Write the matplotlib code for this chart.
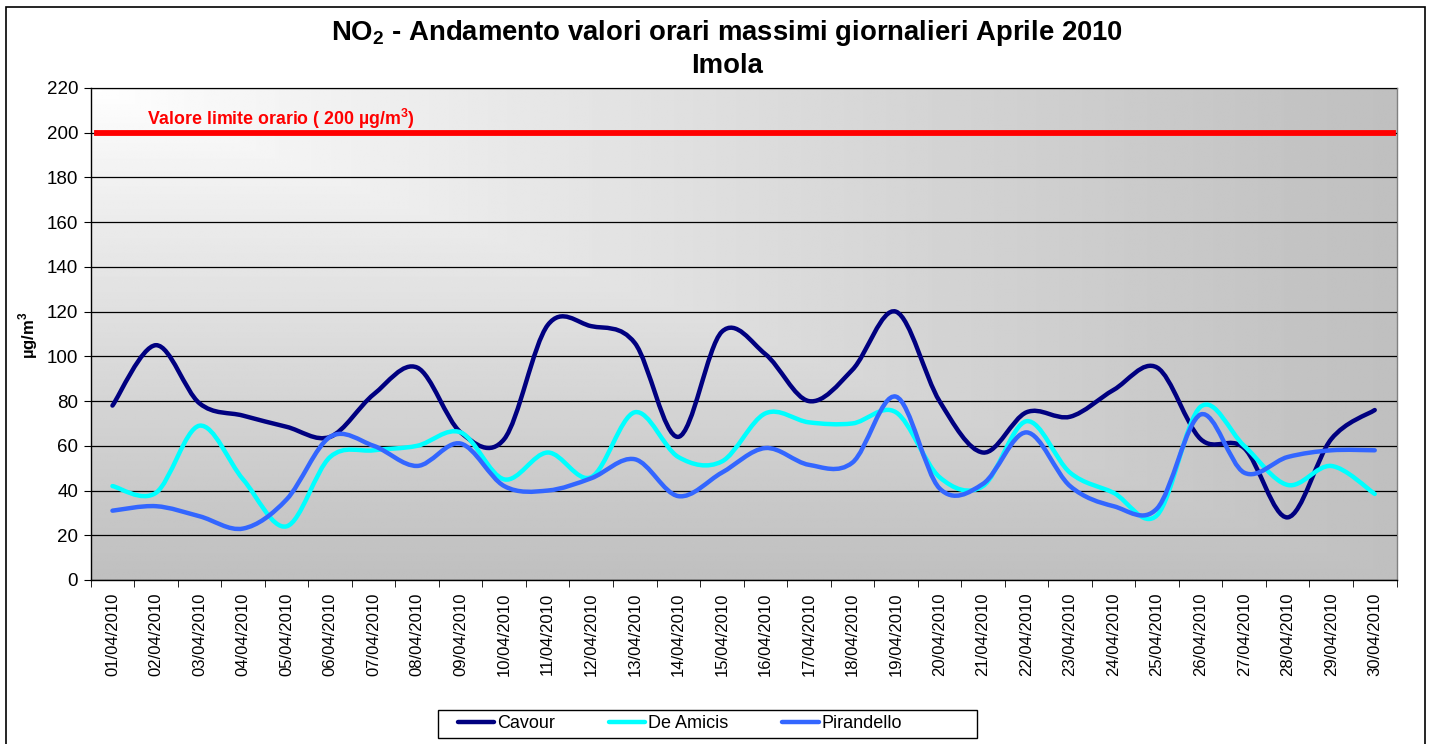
"""
NO2 - daily maximum hourly values, April 2010, Imola.
Three stations drawn as Excel-style smoothed lines over a grey gradient.
"""

import numpy as np
import matplotlib
matplotlib.use("Agg")
import matplotlib.pyplot as plt
from matplotlib.path import Path
from matplotlib.patches import PathPatch, Rectangle
from matplotlib.lines import Line2D

plt.rcParams["font.family"] = ["Liberation Sans", "DejaVu Sans"]
plt.rcParams["mathtext.fontset"] = "custom"
plt.rcParams["mathtext.rm"] = "Liberation Sans"
plt.rcParams["mathtext.bf"] = "Liberation Sans:bold"

DAYS = [f"{d:02d}/04/2010" for d in range(1, 31)]
CAVOUR = [78, 105, 79, 73.5, 68.5, 64, 83, 95, 66, 63,
          114, 113.5, 106, 64, 111, 101, 80, 94, 120, 80,
          57, 75, 73, 85, 95, 63, 59, 28, 63, 76]
DE_AMICIS = [42, 39, 69, 45, 24, 55, 58, 60, 66, 45,
             57, 46, 75, 55, 53, 74.5, 70.5, 70, 75, 46,
             42, 71, 48, 39, 29, 77.5, 60, 42.5, 51, 38.5]
PIRANDELLO = [31, 33, 28.5, 23, 36, 64, 60, 51, 61, 42,
              40, 45.5, 54, 37.5, 48, 59, 51.5, 52.5, 82, 41,
              43, 66, 42, 33, 32, 74, 48, 55, 58, 58]
LIMIT = 200

SERIES = [
    ("Cavour", CAVOUR, "#000080"),
    ("De Amicis", DE_AMICIS, "#00FFFF"),
    ("Pirandello", PIRANDELLO, "#3366FF"),
]


def smooth_path(ys):
    # Excel "smoothed line": cubic Bezier through the points, Catmull-Rom handles
    p = np.column_stack([np.arange(len(ys)), ys]).astype(float)
    n = len(p)
    verts, codes = [p[0]], [Path.MOVETO]
    for i in range(n - 1):
        p0, p1 = p[max(i - 1, 0)], p[i]
        p2, p3 = p[i + 1], p[min(i + 2, n - 1)]
        verts += [p1 + (p2 - p0) / 6, p2 - (p3 - p1) / 6, p2]
        codes += [Path.CURVE4] * 3
    return Path(verts, codes)


def main():
    W, H = 1431, 744
    fig = plt.figure(figsize=(W / 100, H / 100), dpi=100)
    fig.patch.set_facecolor("white")
    left, right, top, bottom = 90.7, 1396.5, 88, 580
    ax = fig.add_axes([left / W, 1 - bottom / H, (right - left) / W, (bottom - top) / H])

    n = len(DAYS)
    ax.set_xlim(-0.5, n - 0.5)
    ax.set_ylim(0, 220)

    # corner gradient: white at top-left, grey towards bottom/right
    u = np.linspace(0, 1, 400)[None, :]
    v = np.linspace(0, 1, 300)[:, None]
    shade = 1 - 0.25 * np.maximum(u, v) ** 0.9
    ax.imshow(shade, cmap="gray", vmin=0, vmax=1, aspect="auto",
              extent=(-0.5, n - 0.5, 0, 220), origin="upper",
              interpolation="bilinear", zorder=0)

    ax.set_yticks(np.arange(0, 221, 20))
    ax.yaxis.grid(True, color="black", lw=0.9)
    ax.set_axisbelow(False)
    for gl in ax.get_ygridlines():
        gl.set_zorder(1)

    ax.axhline(LIMIT, xmin=0.005, xmax=0.997, color="#FF0000", lw=4.2, zorder=3)
    ax.text(0.79, 203.5, r"Valore limite orario ( 200 µg/m$^\mathbf{3}$)",
            color="#FF0000", fontsize=12.8, fontweight="bold", va="baseline",
            zorder=4)

    for name, ys, color in SERIES:
        ax.add_patch(PathPatch(smooth_path(ys), facecolor="none", edgecolor=color,
                               lw=3.2, capstyle="round", joinstyle="round",
                               zorder=5))

    ax.set_xticks(np.arange(n))
    ax.set_xticklabels(DAYS, rotation=90, fontsize=12)
    ax.set_xticks(np.arange(-0.5, n, 1), minor=True)
    ax.tick_params(axis="x", which="major", length=0, pad=9)
    ax.tick_params(axis="x", which="minor", length=5, direction="out", color="black")
    ax.tick_params(axis="y", length=5, direction="out", labelsize=13.5, pad=4)

    for side in ("left", "bottom"):
        ax.spines[side].set_color("black")
        ax.spines[side].set_linewidth(1.0)
    for side in ("top", "right"):
        ax.spines[side].set_color("#808080")
        ax.spines[side].set_linewidth(1.0)

    fig.text(727 / W, 1 - 33 / H,
             r"NO$_\mathbf{2}$ - Andamento valori orari massimi giornalieri Aprile 2010",
             ha="center", va="center", fontsize=19.8, fontweight="bold")
    fig.text(727 / W, 1 - 66 / H, "Imola", ha="center", va="center",
             fontsize=19.8, fontweight="bold")
    fig.text(28 / W, 1 - 335 / H, r"µg/m$^\mathbf{3}$", rotation=90,
             ha="center", va="center", fontsize=12, fontweight="bold")

    # legend: entries without frame, Excel-like box drawn separately
    handles = [Line2D([], [], color=c, lw=3.2, solid_capstyle="round")
               for _, _, c in SERIES]
    fig.legend(handles, [s[0] for s in SERIES], loc="center",
               bbox_to_anchor=(680 / W, 1 - 724 / H), ncol=3,
               fontsize=13, frameon=False,
               handlelength=2.0, handletextpad=0.15, columnspacing=3.0,
               borderpad=0.25, borderaxespad=0)
    fig.patches.append(Rectangle((438 / W, 1 - 738 / H), (977 - 438) / W, 28 / H,
                                 transform=fig.transFigure, fill=False,
                                 edgecolor="black", lw=1.0))

    # outer chart-area border
    fig.patches.append(Rectangle((6 / W, -0.05), (1425 - 6) / W, 1.05 - 7 / H,
                                 transform=fig.transFigure, fill=False,
                                 edgecolor="black", lw=1.2))

    fig.savefig("out.png", dpi=100)
    plt.close(fig)


if __name__ == "__main__":
    main()
